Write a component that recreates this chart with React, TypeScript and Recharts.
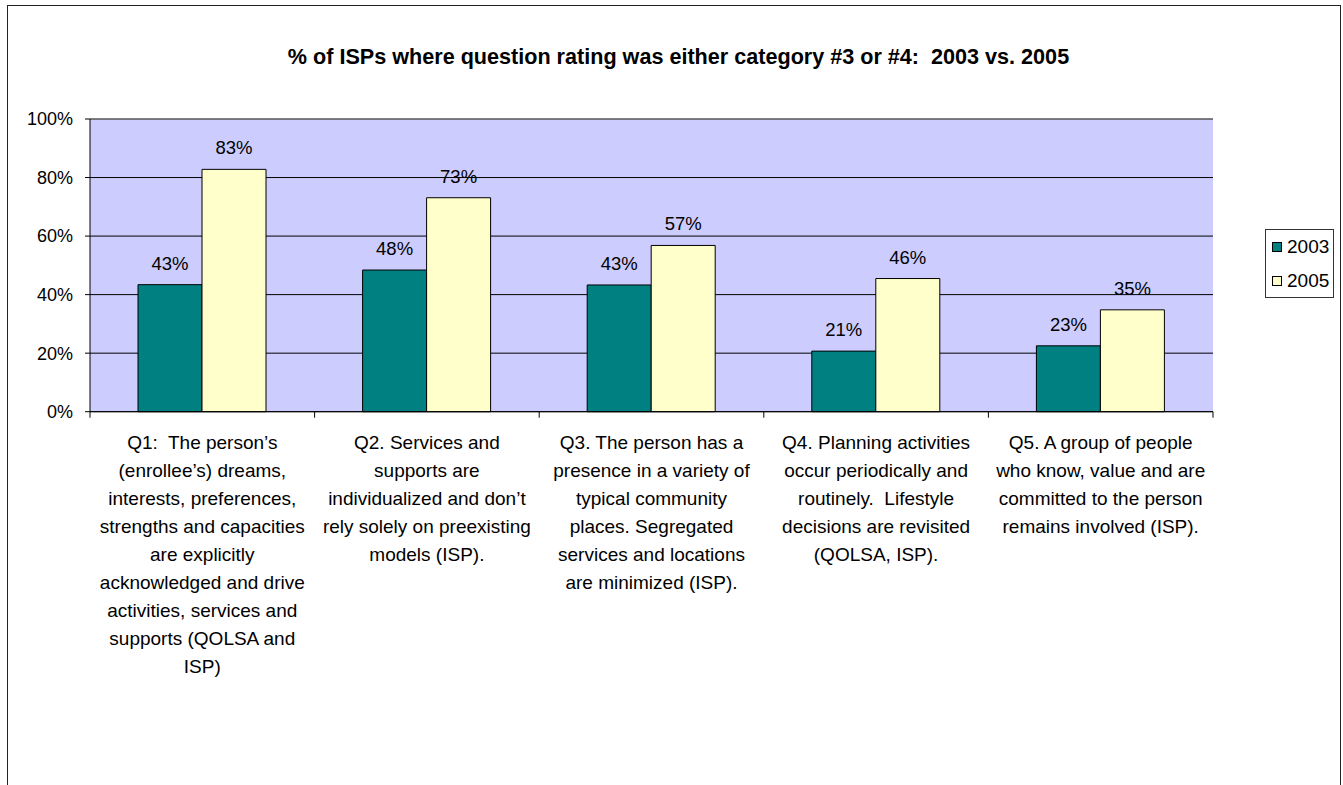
import { Bar, BarChart, CartesianGrid, LabelList, Legend, ReferenceLine, XAxis, YAxis } from 'recharts'

const FONT = 'Arial, "Liberation Sans", sans-serif'

const TITLE = '% of ISPs where question rating was either category #3 or #4:  2003 vs. 2005'

const categories = [
  'Q1:  The person’s\n(enrollee’s) dreams,\ninterests, preferences,\nstrengths and capacities\nare explicitly\nacknowledged and drive\nactivities, services and\nsupports (QOLSA and\nISP)',
  'Q2. Services and\nsupports are\nindividualized and don’t\nrely solely on preexisting\nmodels (ISP).',
  'Q3. The person has a\npresence in a variety of\ntypical community\nplaces. Segregated\nservices and locations\nare minimized (ISP).',
  'Q4. Planning activities\noccur periodically and\nroutinely.  Lifestyle\ndecisions are revisited\n(QOLSA, ISP).',
  'Q5. A group of people\nwho know, value and are\ncommitted to the person\nremains involved (ISP).',
]

const values2003 = [43.4, 48.4, 43.3, 20.7, 22.5]
const values2005 = [82.8, 73.1, 56.8, 45.5, 34.8]

const seriesNames = ['2003', '2005']
const seriesColors = ['#008080', '#FFFFCC']

const yTicks = [0, 20, 40, 60, 80, 100]

const chartData = categories.map((category, i) => ({
  category,
  y2003: values2003[i],
  y2005: values2005[i],
}))

const formatPct = (v: number) => `${Math.round(v)}%`

// category labels wrap over several lines; tick marks sit on the band edges
const CategoryTick = ({ x, y, payload, index }: any) => {
  const lines = String(payload.value).split('\n')
  const half = payload.offset || 0
  const last = index === categories.length - 1
  return (
    <g>
      <line x1={x - half} x2={x - half} y1={y} y2={y + 6} stroke="#000" />
      {last && <line x1={x + half} x2={x + half} y1={y} y2={y + 6} stroke="#000" />}
      <text x={x} y={y + 37} textAnchor="middle" fontSize={19} fill="#000" style={{ whiteSpace: 'pre' }}>
        {lines.map((line, i) => (
          <tspan key={i} x={x} dy={i === 0 ? 0 : 28}>
            {line}
          </tspan>
        ))}
      </text>
    </g>
  )
}

const LegendBox = () => (
  <div
    style={{
      width: 69,
      height: 69,
      boxSizing: 'border-box',
      border: '1px solid #333',
      background: '#fff',
      paddingLeft: 6,
      fontSize: 19,
      color: '#000',
    }}
  >
    {seriesNames.map((name, i) => (
      <div key={name} style={{ display: 'flex', alignItems: 'center', height: 34 }}>
        <span
          style={{
            display: 'inline-block',
            width: 10,
            height: 10,
            boxSizing: 'border-box',
            border: '1px solid #000',
            background: seriesColors[i],
            marginRight: 5,
          }}
        />
        {name}
      </div>
    ))}
  </div>
)

export default function App() {
  return (
    <div
      style={{
        position: 'absolute',
        left: 0,
        top: 0,
        width: 1343,
        height: 785,
        overflow: 'hidden',
        background: '#fff',
        fontFamily: FONT,
      }}
    >
      <div
        style={{
          position: 'absolute',
          left: 7,
          top: 5,
          width: 1334,
          height: 820,
          boxSizing: 'border-box',
          border: '1.5px solid #222',
        }}
      />
      <div
        style={{
          position: 'absolute',
          left: 7,
          top: 44,
          width: 1343,
          textAlign: 'center',
          fontWeight: 'bold',
          fontSize: 21.6,
          lineHeight: '26px',
          color: '#000',
          whiteSpace: 'pre',
        }}
      >
        {TITLE}
      </div>
      <BarChart
        width={1343}
        height={785}
        data={chartData}
        margin={{ top: 119, right: 130, bottom: 0, left: 0 }}
        barGap={0}
      >
        <CartesianGrid vertical={false} fill="#CCCCFF" fillOpacity={1} stroke="#000" />
        <ReferenceLine y={100} stroke="#808080" />
        <XAxis
          dataKey="category"
          height={373.3}
          interval={0}
          tickLine={false}
          axisLine={{ stroke: '#000' }}
          tickSize={0}
          tickMargin={0}
          tick={<CategoryTick />}
        />
        <YAxis
          width={90}
          domain={[0, 100]}
          ticks={yTicks}
          tickFormatter={formatPct}
          tickSize={5}
          tickMargin={12}
          axisLine={{ stroke: '#000' }}
          tickLine={{ stroke: '#000' }}
          tick={{ fill: '#000', fontSize: 18 }}
        />
        <YAxis
          yAxisId="right"
          orientation="right"
          width={0}
          domain={[0, 100]}
          tick={false}
          tickLine={false}
          axisLine={{ stroke: '#808080' }}
        />
        <Legend
          layout="vertical"
          align="center"
          verticalAlign="middle"
          content={<LegendBox />}
          wrapperStyle={{ position: 'absolute', left: 1265, top: 229, width: 69, height: 69 }}
        />
        <Bar dataKey="y2003" name="2003" fill={seriesColors[0]} stroke="#000" barSize={64} isAnimationActive={false}>
          <LabelList dataKey="y2003" position="top" offset={15} formatter={formatPct} fontSize={18.5} fill="#000" />
        </Bar>
        <Bar dataKey="y2005" name="2005" fill={seriesColors[1]} stroke="#000" barSize={64} isAnimationActive={false}>
          <LabelList dataKey="y2005" position="top" offset={15} formatter={formatPct} fontSize={18.5} fill="#000" />
        </Bar>
      </BarChart>
    </div>
  )
}
